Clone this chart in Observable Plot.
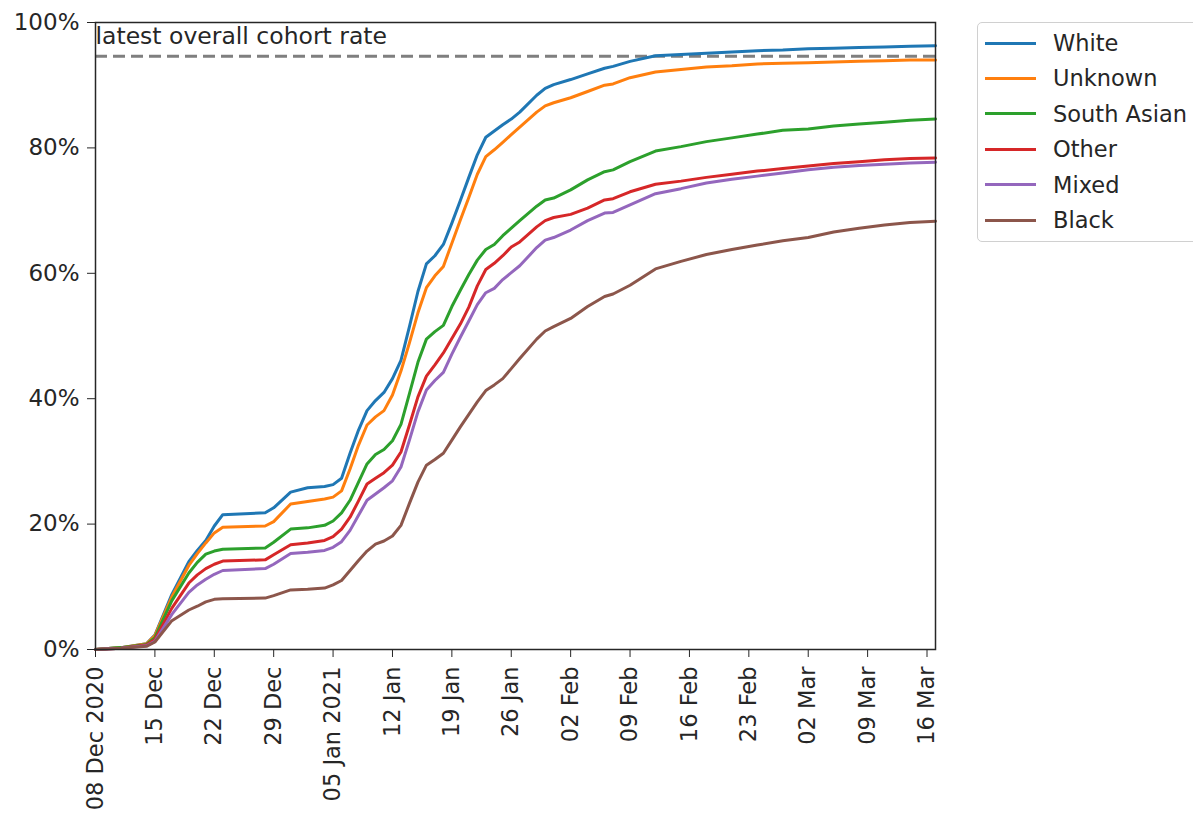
<!DOCTYPE html>
<html><head><meta charset="utf-8">
<script src="https://cdn.jsdelivr.net/npm/d3@7"></script>
<script src="https://cdn.jsdelivr.net/npm/@observablehq/plot@0.6"></script>
<style>
body{margin:0;background:#fff;font-family:"DejaVu Sans",sans-serif;}
#wrap{position:relative;width:1193px;height:814px;overflow:hidden;background:#fff;}
#legend{position:absolute;left:977px;top:22px;width:240px;height:220px;border:1.5px solid #d0d0d0;border-radius:5px;box-sizing:border-box;background:#fff;}
.row{position:absolute;left:0;height:30px;display:flex;align-items:center;}
.sw{width:51px;height:0;border-top:3px solid;margin-left:7px;margin-right:17px;}
.lab{font-size:22.5px;color:#262626;white-space:nowrap;}
</style></head><body><div id="wrap"></div>
<script>
const dates = ["2020-12-08","2020-12-11","2020-12-14","2020-12-15","2020-12-17","2020-12-19","2020-12-20","2020-12-21","2020-12-22","2020-12-23",
"2020-12-28","2020-12-29","2020-12-31","2021-01-02","2021-01-04","2021-01-05","2021-01-06","2021-01-07","2021-01-08","2021-01-09",
"2021-01-10","2021-01-11","2021-01-12","2021-01-13","2021-01-14","2021-01-15","2021-01-16","2021-01-17","2021-01-18","2021-01-19",
"2021-01-20","2021-01-21","2021-01-22","2021-01-23","2021-01-24","2021-01-25","2021-01-26","2021-01-27","2021-01-29","2021-01-30",
"2021-01-31","2021-02-02","2021-02-04","2021-02-06","2021-02-07","2021-02-09","2021-02-12","2021-02-15","2021-02-18","2021-02-21",
"2021-02-24","2021-02-27","2021-03-02","2021-03-05","2021-03-08","2021-03-11","2021-03-14","2021-03-17"];

const white = [0,0.3,0.9,2.3,8.8,14.0,15.8,17.4,19.7,21.5,
21.8,22.6,25.1,25.8,26.0,26.3,27.3,31.3,35.0,38.1,
39.7,41.0,43.2,46.1,51.5,57.1,61.5,62.8,64.6,68.0,
71.6,75.3,78.9,81.7,82.7,83.7,84.6,85.7,88.4,89.5,
90.1,90.9,91.8,92.7,93.0,93.8,94.7,94.9,95.1,95.3,
95.5,95.6,95.8,95.9,96.0,96.1,96.2,96.3];
const unknown = [0,0.3,0.9,2.2,8.4,13.4,15.3,17.0,18.6,19.5,
19.7,20.4,23.2,23.6,24.0,24.3,25.3,28.8,32.6,35.8,
37.1,38.1,40.6,44.4,48.9,53.7,57.7,59.6,61.1,64.8,
68.5,72.1,75.8,78.6,79.7,80.9,82.1,83.3,85.7,86.7,
87.2,88.0,89.0,90.0,90.2,91.2,92.1,92.5,92.9,93.1,
93.4,93.5,93.6,93.7,93.8,93.9,94.0,94.0];
const southAsian = [0,0.3,0.8,1.9,7.8,12.2,13.9,15.2,15.7,16.0,
16.2,17.1,19.2,19.4,19.8,20.5,21.8,23.8,26.7,29.6,
31.1,31.9,33.3,35.9,40.8,45.8,49.5,50.7,51.7,54.7,
57.3,59.8,62.1,63.8,64.6,66.0,67.2,68.4,70.7,71.7,
72.0,73.3,74.9,76.2,76.5,77.8,79.5,80.2,81.0,81.6,
82.2,82.8,83.0,83.5,83.8,84.1,84.4,84.6];
const other = [0,0.2,0.7,1.6,6.6,10.6,11.9,12.9,13.6,14.1,
14.3,15.1,16.7,17.0,17.4,18.0,19.2,21.1,23.7,26.4,
27.3,28.2,29.4,31.5,35.8,40.3,43.6,45.4,47.3,49.6,
51.9,54.6,58.0,60.6,61.6,62.8,64.2,65.0,67.4,68.4,
68.9,69.4,70.4,71.7,71.9,73.0,74.2,74.7,75.3,75.8,
76.3,76.7,77.1,77.5,77.8,78.1,78.3,78.4];
const mixed = [0,0.2,0.6,1.3,5.6,9.1,10.3,11.2,12.0,12.6,
12.9,13.6,15.3,15.5,15.8,16.3,17.2,19.0,21.4,23.8,
24.8,25.8,26.9,29.1,33.4,37.9,41.4,42.9,44.2,47.1,
49.8,52.4,55.0,56.9,57.6,59.0,60.1,61.2,64.1,65.3,
65.7,66.9,68.4,69.6,69.7,70.9,72.7,73.5,74.4,75.0,
75.5,76.0,76.5,76.9,77.2,77.4,77.6,77.7];
const black = [0,0.2,0.5,1.2,4.6,6.3,6.9,7.6,8.0,8.1,
8.2,8.6,9.5,9.6,9.8,10.3,11.0,12.6,14.2,15.7,
16.8,17.3,18.1,19.8,23.3,26.7,29.4,30.3,31.3,33.4,
35.5,37.5,39.5,41.3,42.2,43.2,44.8,46.4,49.5,50.8,
51.5,52.8,54.7,56.3,56.7,58.1,60.7,61.9,63.0,63.8,
64.5,65.2,65.7,66.6,67.2,67.7,68.1,68.3];

const seriesNames = ["White","Unknown","South Asian","Other","Mixed","Black"];
const seriesValues = [white, unknown, southAsian, other, mixed, black];
const colors = ["#1f77b4","#ff7f0e","#2ca02c","#d62728","#9467bd","#8c564b"];

const overallRate = 94.6;
const annotation = "latest overall cohort rate";
const xStart = "2020-12-08", xEnd = "2021-03-17";
const yTicks = [0,20,40,60,80,100];
const tickDates = ["2020-12-08","2020-12-15","2020-12-22","2020-12-29","2021-01-05","2021-01-12","2021-01-19","2021-01-26","2021-02-02","2021-02-09","2021-02-16","2021-02-23","2021-03-02","2021-03-09","2021-03-16"];
const tickLabels = ["08 Dec 2020","15 Dec","22 Dec","29 Dec","05 Jan 2021","12 Jan","19 Jan","26 Jan","02 Feb","09 Feb","16 Feb","23 Feb","02 Mar","09 Mar","16 Mar"];

const parse = d3.utcParse("%Y-%m-%d");
const data = [];
seriesNames.forEach((s, i) => seriesValues[i].forEach((v, j) => data.push({date: parse(dates[j]), value: v, series: s})));
const labelMap = new Map(tickDates.map((d, i) => [+parse(d), tickLabels[i]]));

const chart = Plot.plot({
  width: 1193, height: 814,
  marginLeft: 95, marginRight: 258, marginTop: 22, marginBottom: 165,
  style: {fontFamily: "DejaVu Sans", fontSize: "22px", color: "#262626", background: "white"},
  x: {type: "utc", domain: [parse(xStart), parse(xEnd)]},
  y: {domain: [0, 100]},
  color: {domain: seriesNames, range: colors},
  marks: [
    Plot.ruleY([overallRate], {stroke: "#7f7f7f", strokeWidth: 3, strokeDasharray: "12,6"}),
    Plot.line(data, {x: "date", y: "value", z: "series", stroke: "series", strokeWidth: 3}),
    Plot.text([annotation], {text: d => d, frameAnchor: "top-left", textAnchor: "start", lineAnchor: "top", dx: 0, dy: 5, fontSize: 23.5, fill: "#262626"}),
    Plot.frame({stroke: "#262626", strokeWidth: 1.5}),
    Plot.axisY({ticks: yTicks, tickFormat: d => d + "%", tickSize: 8, tickPadding: 8, fontSize: 23, label: null}),
    Plot.axisX({ticks: tickDates.map(parse), tickFormat: d => labelMap.get(+d), tickRotate: -90, tickSize: 8, tickPadding: 9, fontSize: 22.5, label: null})
  ]
});
const wrap = document.getElementById("wrap");
wrap.appendChild(chart);

const legend = document.createElement("div");
legend.id = "legend";
seriesNames.forEach((s, i) => {
  const row = document.createElement("div");
  row.className = "row";
  row.style.top = (5 + i * 35.4) + "px";
  const sw = document.createElement("div");
  sw.className = "sw";
  sw.style.borderTopColor = colors[i];
  const lab = document.createElement("span");
  lab.className = "lab";
  lab.textContent = s;
  row.appendChild(sw); row.appendChild(lab);
  legend.appendChild(row);
});
wrap.appendChild(legend);
</script>
</body></html>
